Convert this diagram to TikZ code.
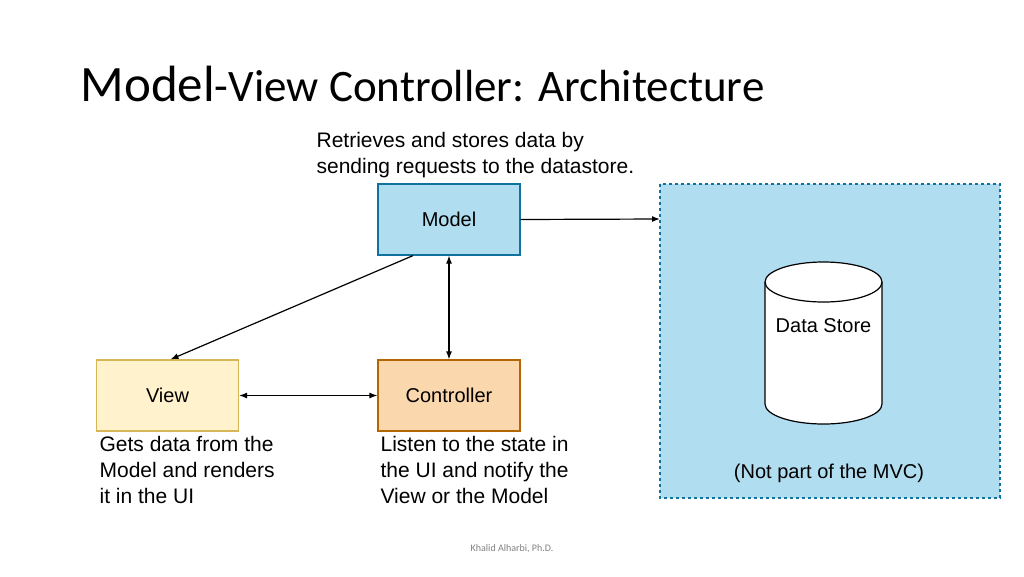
\documentclass[tikz,border=0pt]{standalone}
\usepackage{fontspec}
\setmainfont{Liberation Sans}
\newfontfamily\titlefont{Carlito}
\usetikzlibrary{positioning,arrows.meta}
\definecolor{mblue}{HTML}{B1DDF0}
\definecolor{mbluedraw}{HTML}{10739E}
\definecolor{vyellow}{HTML}{FFF2CC}
\definecolor{vyellowdraw}{HTML}{D6B656}
\definecolor{corange}{HTML}{FAD7AC}
\definecolor{corangedraw}{HTML}{B46504}
\tikzset{
    box/.style={draw, line width=1.2pt, minimum width=142pt, minimum height=71pt, font=\fontsize{20}{22}\selectfont},
    note/.style={align=left, font=\fontsize{21}{26}\selectfont, inner sep=0pt},
    link/.style={-{Latex[length=8pt,width=6pt]}, line width=1.2pt}
}
\begin{document}
\begin{tikzpicture}[x=1pt,y=-1pt, line width=1.2pt]
    \useasboundingbox (0,0) rectangle (1024,576);

    % Title
    \node[anchor=base west, inner sep=0pt, font=\titlefont] (title) at (80,101)
        {\fontsize{51}{56}\selectfont Model\fontsize{45}{56}\selectfont-View Controller: Architecture};

    % Data store area
    \draw[mbluedraw, fill=mblue, dashed] (660,184) rectangle (1000,498);
    \coordinate (ds) at (660,219);
    \draw[fill=white] (765,282) -- (765,404)
        arc[start angle=180, end angle=0, x radius=58.5, y radius=20] -- (882,282)
        arc[start angle=0, end angle=-180, x radius=58.5, y radius=20] -- cycle;
    \draw (765,282) arc[start angle=180, end angle=0, x radius=58.5, y radius=20];
    \node[font=\fontsize{20}{22}\selectfont] (store) at (823.5,326) {Data Store};
    \node[font=\fontsize{20}{22}\selectfont] (notmvc) at (829,473) {(Not part of the MVC)};

    % Components
    \node[box, fill=mblue, draw=mbluedraw] (model) at (449,219.5) {Model};
    \node[box, fill=vyellow, draw=vyellowdraw] (view) at (167.5,395.5) {View};
    \node[box, fill=corange, draw=corangedraw] (ctrl) at (449,395.5) {Controller};

    % Notes
    \node[note, anchor=south west] (modelnote) at (316,178)
        {Retrieves and stores data by\\sending requests to the datastore.};
    \node[note, anchor=north west] (viewnote) at (99,436)
        {Gets data from the\\Model and renders\\it in the UI};
    \node[note, anchor=north west] (ctrlnote) at (380,436)
        {Listen to the state in\\the UI and notify the\\View or the Model};

    % Connectors
    \draw[link] (model.east) -- (ds);
    \draw[link] ([xshift=-36pt]model.south) -- ([xshift=3pt]view.north);
    \draw[link, {Latex[length=8pt,width=6pt]}-{Latex[length=8pt,width=6pt]}] (model) -- (ctrl);
    \draw[link, {Latex[length=8pt,width=6pt]}-{Latex[length=8pt,width=6pt]}] (view) -- (ctrl);

    % Footer
    \node[font=\titlefont\fontsize{10}{12}\selectfont, text=gray] (footer) at (512,549) {Khalid Alharbi, Ph.D.};
\end{tikzpicture}
\end{document}
